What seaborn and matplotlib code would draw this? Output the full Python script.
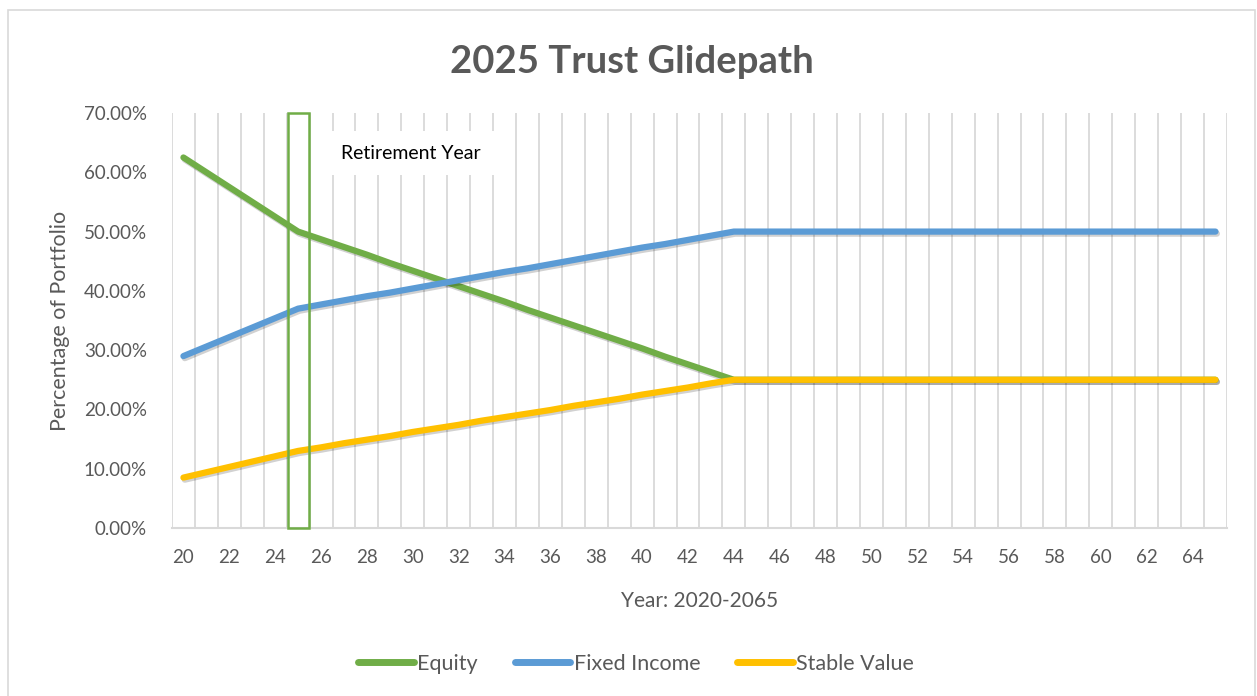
import numpy as np
import pandas as pd
import seaborn as sns
import matplotlib.pyplot as plt
import matplotlib.patheffects as pe
from matplotlib.patches import Rectangle
from matplotlib.ticker import FuncFormatter, MultipleLocator

# Years 2020-2065 shown as two-digit categories
years = list(range(20, 66))

equity = [62.5, 60.0, 57.5, 55.0, 52.5, 50.0,
          48.7, 47.4, 46.1, 44.7, 43.4, 42.1, 40.8, 39.5, 38.2, 36.8,
          35.5, 34.2, 32.9, 31.6, 30.3, 28.9, 27.6, 26.3, 25.0,
          25.0, 25.0, 25.0, 25.0, 25.0, 25.0, 25.0, 25.0, 25.0, 25.0,
          25.0, 25.0, 25.0, 25.0, 25.0, 25.0, 25.0, 25.0, 25.0, 25.0, 25.0]
fixed_income = [29.0, 30.6, 32.2, 33.8, 35.4, 37.0,
                37.7, 38.4, 39.1, 39.7, 40.4, 41.1, 41.8, 42.5, 43.2, 43.8,
                44.5, 45.2, 45.9, 46.6, 47.3, 47.9, 48.6, 49.3, 50.0,
                50.0, 50.0, 50.0, 50.0, 50.0, 50.0, 50.0, 50.0, 50.0, 50.0,
                50.0, 50.0, 50.0, 50.0, 50.0, 50.0, 50.0, 50.0, 50.0, 50.0, 50.0]
stable_value = [8.5, 9.4, 10.3, 11.2, 12.1, 13.0,
                13.6, 14.3, 14.9, 15.5, 16.2, 16.8, 17.4, 18.1, 18.7, 19.3,
                19.9, 20.6, 21.2, 21.8, 22.5, 23.1, 23.7, 24.4, 25.0,
                25.0, 25.0, 25.0, 25.0, 25.0, 25.0, 25.0, 25.0, 25.0, 25.0,
                25.0, 25.0, 25.0, 25.0, 25.0, 25.0, 25.0, 25.0, 25.0, 25.0, 25.0]

series_names = ['Equity', 'Fixed Income', 'Stable Value']
colors = ['#70AD47', '#5B9BD5', '#FFC000']
retirement_year = 25

df = pd.DataFrame({
    'year': years * 3,
    'value': equity + fixed_income + stable_value,
    'series': [s for s in series_names for _ in years],
})

sns.set_style('white')
plt.rcParams['font.family'] = ['Lato', 'DejaVu Sans']
text_color = '#595959'
grid_color = '#D9D9D9'

fig = plt.figure(figsize=(12.57, 6.96), dpi=100)
ax = fig.add_axes([0.1368, 0.2414, 0.8393, 0.5962])

sns.lineplot(data=df, x='year', y='value', hue='series', hue_order=series_names,
             palette=colors, linewidth=4.5, ax=ax, legend=False)
for line in ax.lines:
    line.set_solid_capstyle('round')
    line.set_solid_joinstyle('round')
    line.set_path_effects([pe.SimpleLineShadow(offset=(1, -1.5), shadow_color='black', alpha=0.18),
                           pe.Normal()])

# category boundaries as vertical gridlines
ax.set_xlim(years[0] - 0.5, years[-1] + 0.5)
ax.set_ylim(0, 70)
ax.xaxis.set_minor_locator(MultipleLocator(1, offset=0.5))
ax.set_xticks(years[::2])
ax.grid(False)
ax.grid(True, which='minor', axis='x', color=grid_color, linewidth=1.3)
ax.set_axisbelow(True)
ax.yaxis.set_major_locator(MultipleLocator(10))
ax.yaxis.set_major_formatter(FuncFormatter(lambda v, p: f'{v:.2f}%'))
ax.tick_params(axis='both', which='both', length=0, labelsize=13.5, labelcolor=text_color)
ax.tick_params(axis='x', pad=15)
ax.tick_params(axis='y', pad=18)
for side in ['top', 'right', 'left']:
    ax.spines[side].set_visible(False)
ax.spines['bottom'].set_color(grid_color)
ax.spines['bottom'].set_linewidth(1.5)

ax.set_xlabel('Year: 2020-2065', fontsize=15, color=text_color, labelpad=18)
ax.set_ylabel('Percentage of Portfolio', fontsize=15.5, color=text_color, labelpad=10)

# retirement year marker
ax.add_patch(Rectangle((retirement_year - 0.45, 0), 0.93, 70, fill=False,
                       edgecolor='#70AD47', linewidth=1.8, clip_on=False, zorder=5))
ax.text(29.9, 63.2, 'Retirement Year', fontsize=14, color='black', ha='center', va='center',
        bbox=dict(facecolor='white', edgecolor='none', boxstyle='square,pad=0.7'), zorder=4)

fig.suptitle('2025 Trust Glidepath', x=0.503, y=0.935, fontsize=27.5, fontweight='bold',
             color=text_color)

handles = [plt.Line2D([], [], color=c, linewidth=5, solid_capstyle='round') for c in colors]
fig.legend(handles, series_names, loc='center', bbox_to_anchor=(0.506, 0.046), ncol=3,
           frameon=False, fontsize=15.5, labelcolor=text_color, handlelength=2.6,
           handletextpad=0.15, columnspacing=1.7)

# chart area border
fig.patches.append(Rectangle((8 / 1257, -0.1), 1247 / 1257, 1.1 - 10 / 696, transform=fig.transFigure,
                             fill=False, edgecolor=grid_color, linewidth=1.2))

fig.savefig('out.png', dpi=100)
